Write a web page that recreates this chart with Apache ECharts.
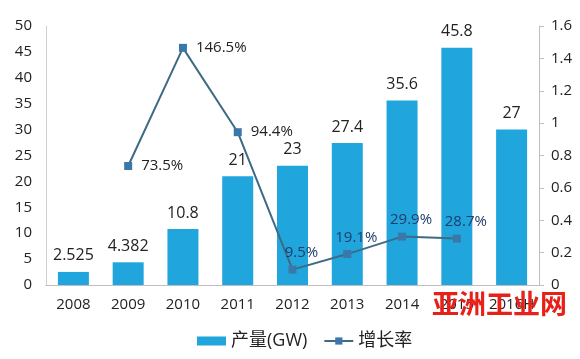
<!DOCTYPE html>
<html>
<head>
<meta charset="utf-8">
<script src="https://cdn.jsdelivr.net/npm/echarts@6/dist/echarts.min.js"></script>
<style>html,body{margin:0;padding:0;background:#fff}#c{width:580px;height:359px}</style>
</head>
<body>
<div id="c"></div>
<script>
var categories = ['2008','2009','2010','2011','2012','2013','2014','2015','2016H'];
var outputGW = [2.525, 4.382, 10.8, 21, 23, 27.4, 35.6, 45.8, 30];
var outputLabels = ['2.525','4.382','10.8','21','23','27.4','35.6','45.8','27'];
var growthRate = [null, 0.735, 1.465, 0.944, 0.095, 0.191, 0.299, 0.287, null];
var growthLabels = [null, '73.5%', '146.5%', '94.4%', '9.5%', '19.1%', '29.9%', '28.7%', null];
var leftTicks = [0, 50, 5];
var rightTicks = [0, 1.6, 0.2];

var font = '"Open Sans", "Noto Sans CJK SC", sans-serif';
var chart = echarts.init(document.getElementById('c'));
var lineData = growthRate.map(function (v, i) {
  if (v == null) return null;
  var high = v > 0.5;
  return {
    value: v,
    label: high ? {position: 'right', distance: 9, color: '#222'}
                : {position: 'top', distance: 5, offset: [9, 0], color: '#1f3d6b'}
  };
});
chart.setOption({
  animation: false,
  textStyle: {fontFamily: font},
  grid: {left: 46, right: 41, top: 26, bottom: 74},
  legend: {
    bottom: 4, left: 192, itemGap: 16,
    textStyle: {fontSize: 18, color: '#222', fontFamily: font},
    data: [
      {name: '产量(GW)', icon: 'rect', itemStyle: {color: '#21a5dd'}},
      {name: '增长率'}
    ],
    itemWidth: 29, itemHeight: 9
  },
  xAxis: {
    type: 'category', data: categories,
    axisLine: {lineStyle: {color: '#bfbfbf'}},
    axisTick: {show: false},
    axisLabel: {color: '#222', fontSize: 15, margin: 12, interval: 0, fontFamily: font}
  },
  yAxis: [
    {
      type: 'value', min: leftTicks[0], max: leftTicks[1], interval: leftTicks[2],
      axisLine: {show: true, lineStyle: {color: '#d0d0d0'}},
      axisTick: {show: false}, splitLine: {show: false},
      axisLabel: {color: '#222', fontSize: 15, margin: 14, fontFamily: font}
    },
    {
      type: 'value', min: rightTicks[0], max: rightTicks[1], interval: rightTicks[2],
      position: 'right',
      axisLine: {show: true, lineStyle: {color: '#bfbfbf'}},
      axisTick: {show: true, length: 5, lineStyle: {color: '#bfbfbf'}},
      splitLine: {show: false},
      axisLabel: {color: '#222', fontSize: 15, margin: 12, fontFamily: font}
    }
  ],
  series: [
    {
      name: '产量(GW)', type: 'bar', data: outputGW, barWidth: 31,
      itemStyle: {color: '#21a5dd'},
      label: {show: true, position: 'top', distance: 8, fontSize: 16, color: '#222', fontFamily: font,
        formatter: function (p) { return outputLabels[p.dataIndex]; }}
    },
    {
      name: '增长率', type: 'line', yAxisIndex: 1, data: lineData,
      connectNulls: false,
      symbol: 'rect', symbolSize: 8,
      lineStyle: {color: '#3e6b84', width: 2},
      itemStyle: {color: '#3a78aa'},
      label: {show: true, fontSize: 15, fontFamily: font,
        formatter: function (p) { return growthLabels[p.dataIndex]; }},
      z: 3
    }
  ],
  graphic: [{
    type: 'text', left: 432, top: 290, z: 100,
    style: {text: '亚洲工业网', fill: '#e8201a', font: 'bold 27px "Noto Sans CJK SC", sans-serif'}
  }]
});
</script>
</body>
</html>
